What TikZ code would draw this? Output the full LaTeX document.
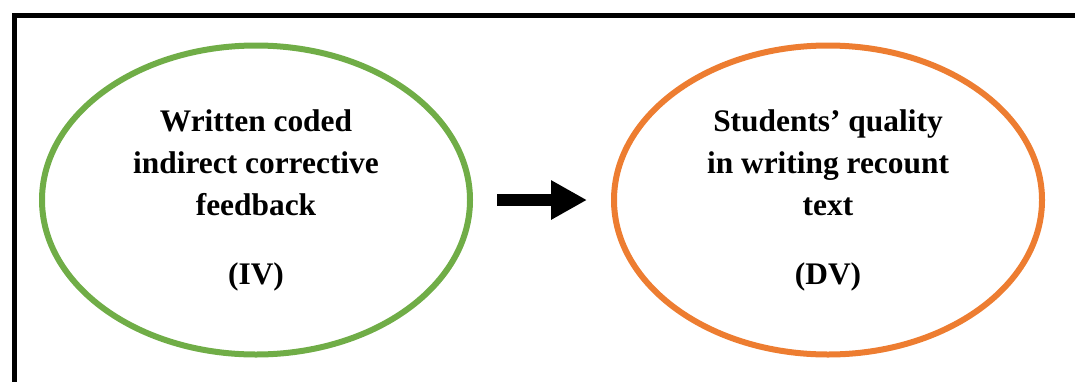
\documentclass[tikz,border=0pt]{standalone}
\usepackage{fontspec}
\setmainfont{Liberation Serif}
\usetikzlibrary{arrows.meta,shapes.geometric}
\definecolor{ivgreen}{RGB}{112,173,71}
\definecolor{dvorange}{RGB}{237,125,49}

\begin{document}
\begin{tikzpicture}[x=0.5pt, y=-0.5pt,
varnode/.style={ellipse, line width=3pt, minimum width=214pt, minimum height=154.5pt, inner sep=0pt, align=center, font=\bfseries\fontsize{15.7}{21}\selectfont},
bigarrow/.style={-{Triangle[length=18pt, width=18.5pt]}, line width=6pt, shorten <=12pt, shorten >=12pt}
]
    \clip (0,0) rectangle (1075,381);
    \draw[line width=2.5pt] (14,420) -- (14,15) -- (1100,15);

    \node[varnode, draw=ivgreen] (iv) at (256,200) {Written coded\\indirect corrective\\feedback\\[13.5pt](IV)};
    \node[varnode, draw=dvorange] (dv) at (828,200) {Students’ quality\\in writing recount\\text\\[13.5pt](DV)};

    \draw[bigarrow] (iv) -- (dv);
\end{tikzpicture}
\end{document}
